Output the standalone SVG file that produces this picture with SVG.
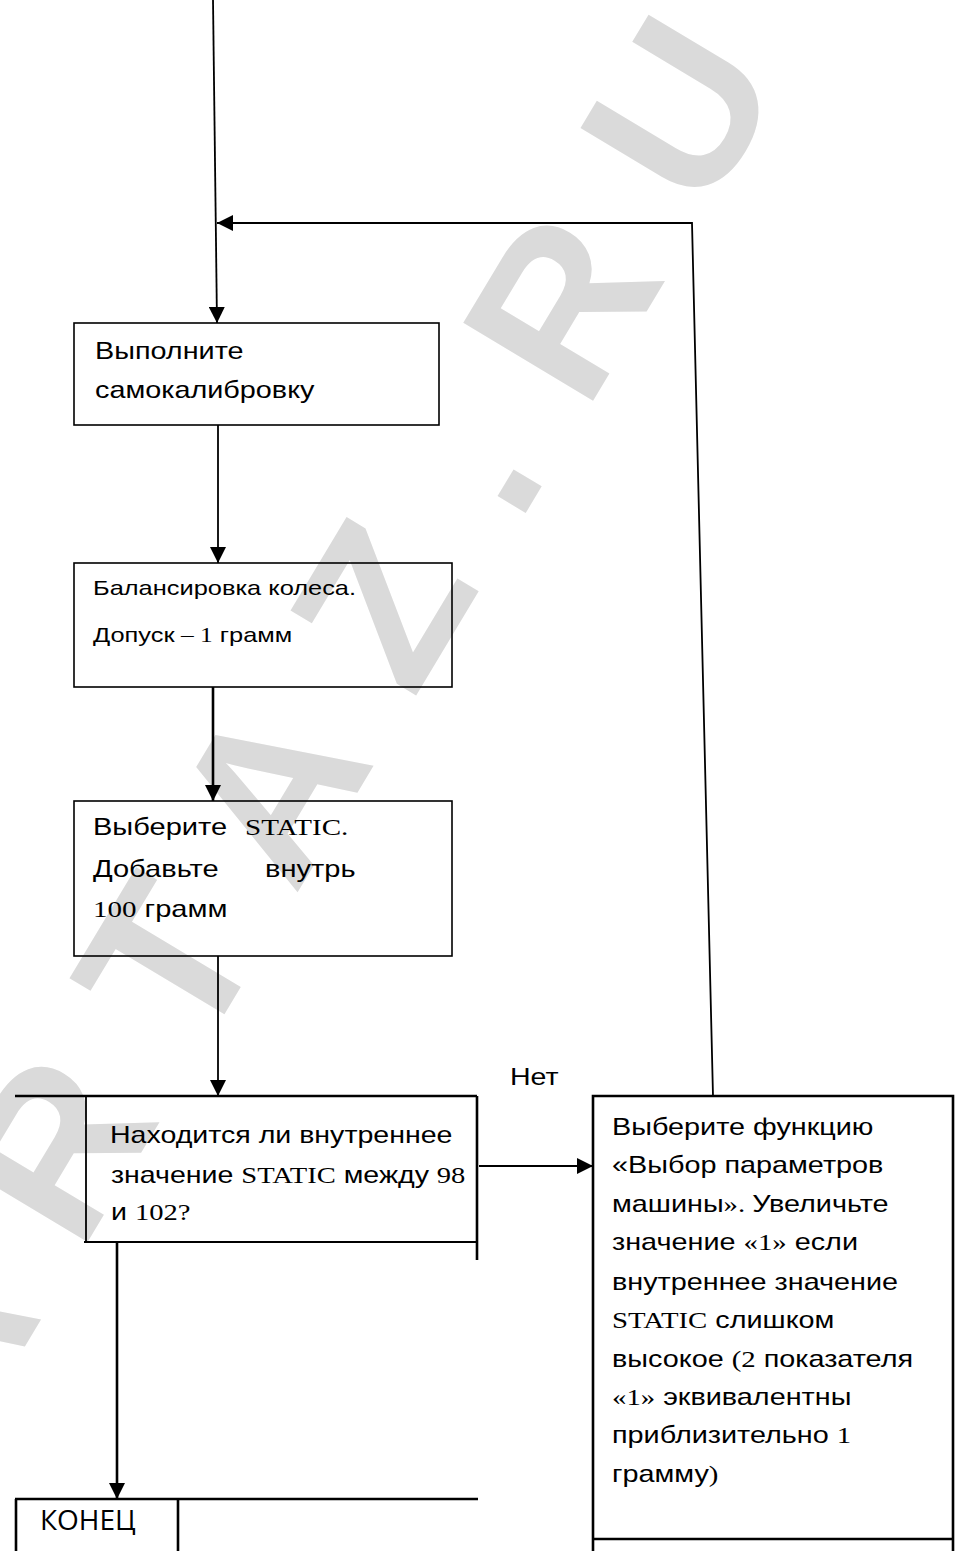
<svg xmlns="http://www.w3.org/2000/svg" width="955" height="1551" viewBox="0 0 955 1551">
<style>
.wm{font-family:"Liberation Sans",Arial,sans-serif;font-weight:bold;font-size:220px;letter-spacing:70px;fill:#dadada}
.t{font-family:"Liberation Sans",Arial,sans-serif;font-size:24px;fill:#000}
.t2{font-family:"Liberation Sans",Arial,sans-serif;font-size:21px;fill:#000}
.s{font-family:"Liberation Serif","Times New Roman",serif}
.end{font-family:"Open Sans","Liberation Sans",sans-serif;font-size:28px;fill:#000}
.box{fill:none;stroke:#000;stroke-width:1.6}
.ln{fill:none;stroke:#000;stroke-width:1.8}
.thk{fill:none;stroke:#000;stroke-width:2.6}
</style>
<defs>
<marker id="ah" markerUnits="userSpaceOnUse" markerWidth="16" markerHeight="16" viewBox="0 0 16 16" refX="16" refY="8" orient="auto">
<path d="M0,0 L16,8 L0,16 Z" fill="#000"/>
</marker>
</defs>
<rect width="955" height="1551" fill="#fff"/>
<text class="wm" transform="rotate(1 680 95) translate(-14,1463) rotate(-60)">ARTAZ.RU</text>

<g id="connectors">
<path class="ln" d="M213,0 L217,323" marker-end="url(#ah)"/>
<path class="ln" d="M713,1096 L692,223 L217,223" marker-end="url(#ah)"/>
<path class="ln" d="M218,425 L218,563" marker-end="url(#ah)"/>
<path class="thk" d="M213,687 L213,801" marker-end="url(#ah)"/>
<path class="ln" d="M218,956 L218,1096" marker-end="url(#ah)"/>
<path class="ln" d="M479,1166 L593,1166" marker-end="url(#ah)"/>
<path class="thk" d="M117,1243 L117,1499" marker-end="url(#ah)"/>
</g>

<g id="node-calibrate">
<rect class="box" x="74" y="323" width="365" height="102"/>
<text class="t" transform="translate(95,359) scale(1.2,1)">Выполните</text>
<text class="t" transform="translate(95,398) scale(1.2,1)">самокалибровку</text>
</g>

<g id="node-balance">
<rect class="box" x="74" y="563" width="378" height="124"/>
<text class="t2" transform="translate(93,595) scale(1.21,1)">Балансировка колеса.</text>
<text class="t2" transform="translate(93,642) scale(1.21,1)">Допуск<tspan class="s"> – 1</tspan> грамм</text>
</g>

<g id="node-static">
<rect class="box" x="74" y="801" width="378" height="155"/>
<text class="t" transform="translate(93,835) scale(1.21,1)">Выберите</text>
<text class="t s" transform="translate(245,835) scale(1.21,1)">STATIC.</text>
<text class="t" transform="translate(93,877) scale(1.21,1)">Добавьте</text>
<text class="t" transform="translate(265,877) scale(1.21,1)">внутрь</text>
<text class="t" transform="translate(93,917) scale(1.21,1)"><tspan class="s">100</tspan> грамм</text>
</g>

<g id="node-decision">
<path class="thk" d="M15,1096 L477,1096 M477,1096 L477,1260"/>
<path class="ln" d="M86,1096 L86,1243 M84,1242 L477,1242"/>
<text class="t" transform="translate(110,1143) scale(1.19,1)">Находится ли внутреннее</text>
<text class="t" transform="translate(111,1183) scale(1.19,1)">значение <tspan class="s">STATIC</tspan> между <tspan class="s">98</tspan></text>
<text class="t" transform="translate(111,1220) scale(1.19,1)">и <tspan class="s">102?</tspan></text>
</g>

<g id="label-no">
<text class="t" transform="translate(510,1085) scale(1.19,1)">Нет</text>
</g>

<g id="node-adjust">
<path class="thk" d="M593,1551 L593,1096 L953,1096 L953,1551 M593,1539 L953,1539"/>
<text class="t" transform="translate(612,1135) scale(1.2,1)">Выберите функцию</text>
<text class="t" transform="translate(612,1173) scale(1.2,1)">«Выбор параметров</text>
<text class="t" transform="translate(612,1212) scale(1.2,1)">машины<tspan class="s">». </tspan>Увеличьте</text>
<text class="t" transform="translate(612,1250) scale(1.2,1)">значение <tspan class="s">«1»</tspan> если</text>
<text class="t" transform="translate(612,1290) scale(1.2,1)">внутреннее значение</text>
<text class="t" transform="translate(612,1328) scale(1.2,1)"><tspan class="s">STATIC</tspan> слишком</text>
<text class="t" transform="translate(612,1367) scale(1.2,1)">высокое <tspan class="s">(2</tspan> показателя</text>
<text class="t" transform="translate(612,1405) scale(1.2,1)"><tspan class="s">«1»</tspan> эквивалентны</text>
<text class="t" transform="translate(612,1443) scale(1.2,1)">приблизительно <tspan class="s">1</tspan></text>
<text class="t" transform="translate(612,1482) scale(1.2,1)">грамму<tspan class="s">)</tspan></text>
</g>

<g id="node-end">
<path class="thk" d="M15,1499 L478,1499 M16,1499 L16,1551 M178,1499 L178,1551"/>
<text class="end" x="40" y="1530">КОНЕЦ</text>
</g>
</svg>
